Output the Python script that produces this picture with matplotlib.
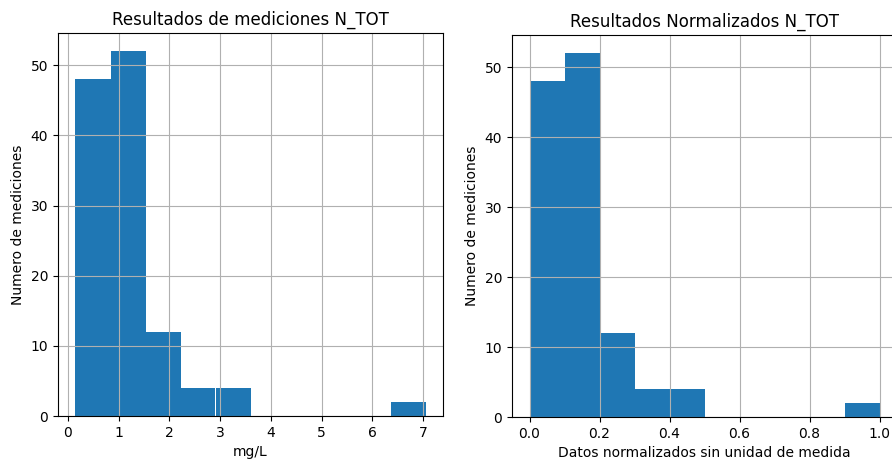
import numpy as np
import matplotlib
matplotlib.use("Agg")
import matplotlib.pyplot as plt

# conteos por intervalo (10 bins)
conteos = [48, 52, 12, 4, 4, 0, 0, 0, 0, 2]

# rango de N_TOT en mg/L
n_min = 0.15
n_max = 7.05

# rango normalizado
norm_min = 0.0
norm_max = 1.0

bordes_mg = np.linspace(n_min, n_max, len(conteos) + 1)
bordes_norm = np.linspace(norm_min, norm_max, len(conteos) + 1)

W, H = 892, 461
fig = plt.figure(figsize=(W / 100, H / 100), dpi=100)


def px_axes(x0, y0, x1, y1):
    return fig.add_axes([x0 / W, 1 - y1 / H, (x1 - x0) / W, (y1 - y0) / H])


# grafico de mediciones
ax1 = px_axes(58, 33, 443, 416)
ax1.hist(bordes_mg[:-1], bins=bordes_mg, weights=conteos, color="#1f77b4")
ax1.grid(True)
ax1.set_title("Resultados de mediciones N_TOT", fontsize=12)
ax1.set_xlabel("mg/L", fontsize=10)
ax1.set_ylabel("Numero de mediciones", fontsize=10)
ax1.tick_params(labelsize=10)

# grafico normalizado
ax2 = px_axes(512, 35, 897, 417)
ax2.hist(bordes_norm[:-1], bins=bordes_norm, weights=conteos, color="#1f77b4")
ax2.grid(True)
ax2.set_title("Resultados Normalizados N_TOT", fontsize=12)
ax2.set_xlabel("Datos normalizados sin unidad de medida", fontsize=10)
ax2.set_ylabel("Numero de mediciones", fontsize=10)
ax2.tick_params(labelsize=10)

fig.savefig("out.png", dpi=100)
